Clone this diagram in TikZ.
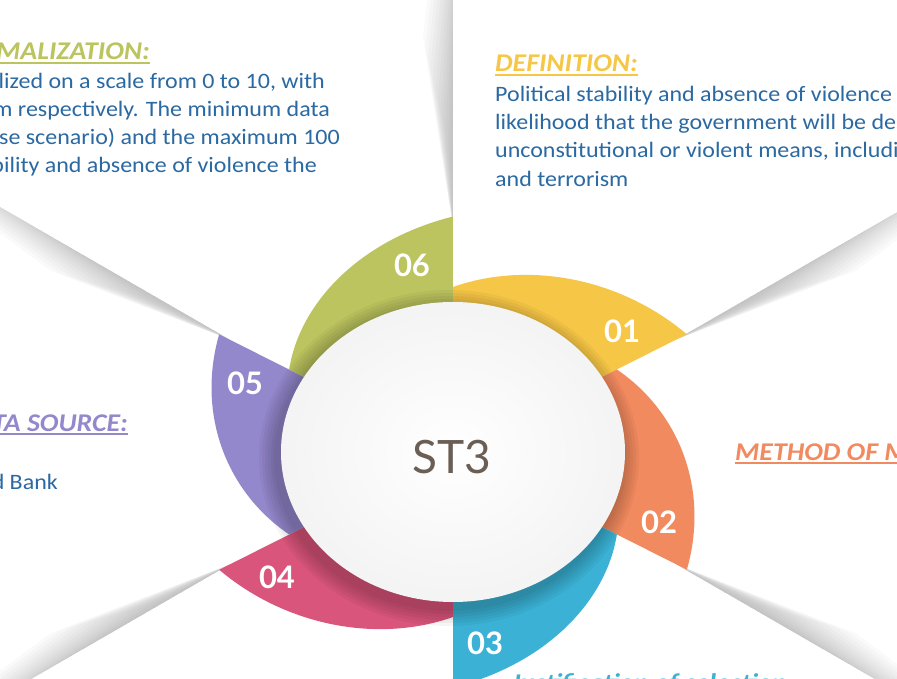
\documentclass[tikz,border=0pt]{standalone}
\usepackage{fontspec}
\setmainfont{Carlito}[FakeStretch=1.09]
\newfontfamily\numfont{Lato}
\usetikzlibrary{shapes.geometric,calc}

\definecolor{petalA}{HTML}{F6C646}
\definecolor{petalB}{HTML}{F28A5F}
\definecolor{petalC}{HTML}{3BB2D5}
\definecolor{petalD}{HTML}{D9557B}
\definecolor{petalE}{HTML}{9488CC}
\definecolor{petalF}{HTML}{BCC45F}
\definecolor{bodyblue}{HTML}{2A69A2}
\definecolor{hubtext}{HTML}{6B5E55}

\tikzset{
  petalnum/.style={font=\numfont\bfseries\fontsize{31}{31}\selectfont, text=white, inner sep=0pt},
  headtxt/.style={font=\bfseries\itshape\fontsize{25.5}{26}\selectfont, inner sep=0pt},
  bodytxt/.style={font=\fontsize{22}{22}\selectfont, text=bodyblue, inner sep=0pt},
  hub/.style={ellipse, minimum width=344pt, minimum height=300pt, inner sep=0pt, inner color=white, outer color=gray!9},
  hubname/.style={font=\numfont\fontsize{46}{46}\selectfont, text=hubtext, inner sep=0pt},
  uline/.style={line width=1.5pt},
}

\begin{document}
\begin{tikzpicture}[x=1pt,y=1pt]
\def\rx{172}\def\ry{150}
\useasboundingbox (-453,-226) rectangle (444,452);
\clip (-453,-226) rectangle (444,452);
\fill[white] (-453,-226) rectangle (444,452);

% folds of the paper behind the ring
\foreach \a/\s in {90/1,30/-1,-30/1,-90/-1,210/-1,150/1}{
  \coordinate (tip) at ({\rx*1.5*cos(\a)},{\ry*1.5*sin(\a)});
  \foreach \k in {1,...,12}
    \fill[black,opacity=0.018] (tip) -- ($(tip)+(\a:150+25*\k)$) -- ($(tip)+(\a:70+10*\k)+(\a+90*\s:2.5*\k)$) -- cycle;
}

% petals, each one widening clockwise
\foreach \a/\c in {90/petalA,30/petalB,-30/petalC,-90/petalD,-150/petalE,150/petalF}
  \fill[\c] (0,0) -- plot[domain=0:1,samples=40,variable=\t]
    ({\rx*(1.1+0.47*\t)*cos(\a-60*\t)},{\ry*(1.1+0.47*\t)*sin(\a-60*\t)}) -- cycle;

% shadow of the hub
\foreach \k in {1,...,6}
  \fill[black,opacity=0.04] (-4,-6) ellipse ({\rx+3*\k} and {\ry+3*\k});

\node[hub] (hub) at (0,0) {};
\node[hubname] (hubname) at (-1,-5) {ST3};

\node[petalnum] (n1) at (169,121) {01};
\node[petalnum] (n2) at (206,-70) {02};
\node[petalnum] (n3) at (32,-191) {03};
\node[petalnum] (n4) at (-176,-125) {04};
\node[petalnum] (n5) at (-208,69) {05};
\node[petalnum] (n6) at (-41,187) {06};

% normalization
\node[headtxt, text=petalF, anchor=base east] (normhead) at (-303,392) {NORMALIZATION:};
\draw[petalF, uline] ([yshift=-3pt]normhead.base west) -- ([yshift=-3pt]normhead.base east);
\node[bodytxt, anchor=base east] (norm1) at (-128,363) {alized on a scale from 0 to 10, with};
\node[bodytxt, anchor=base east] (norm2) at (-123,335) {um respectively. The minimum data};
\node[bodytxt, anchor=base east] (norm3) at (-113,307) {ase scenario) and the maximum 100};
\node[bodytxt, anchor=base east] (norm4) at (-136,279) {ability and absence of violence the};

% definition
\node[headtxt, text=petalA, anchor=base west] (defhead) at (42,380) {DEFINITION:};
\draw[petalA, uline] ([yshift=-3pt]defhead.base west) -- ([yshift=-3pt]defhead.base east);
\node[bodytxt, anchor=base west] (def1) at (42,350) {Political stability and absence of violence};
\node[bodytxt, anchor=base west] (def2) at (42,322) {likelihood that the government will be destabilized};
\node[bodytxt, anchor=base west] (def3) at (42,294) {unconstitutional or violent means, including};
\node[bodytxt, anchor=base west] (def4) at (42,265) {and terrorism};

% data source
\node[headtxt, text=petalE, anchor=base east] (srchead) at (-325,21) {DATA SOURCE:};
\draw[petalE, uline] ([yshift=-3pt]srchead.base west) -- ([yshift=-3pt]srchead.base east);
\node[bodytxt, anchor=base east] (src1) at (-395,-37) {World Bank};

% method
\node[headtxt, text=petalB, anchor=base west] (methead) at (282,-8) {METHOD OF MEASUREMENT:};
\draw[petalB, uline] ([yshift=-3pt]methead.base west) -- ([yshift=-3pt]methead.base east);

% justification
\node[headtxt, text=petalC, anchor=base west] (jushead) at (58,-239) {Justification of selection:};
\end{tikzpicture}
\end{document}
